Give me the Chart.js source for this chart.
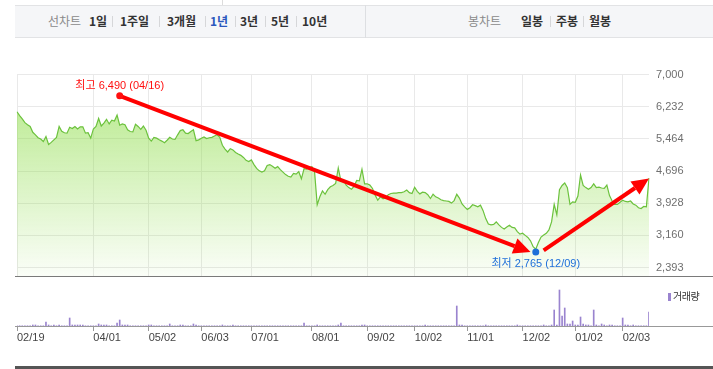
<!DOCTYPE html>
<html lang="ko">
<head>
<meta charset="utf-8">
<script src="https://cdn.jsdelivr.net/npm/chart.js@4.4.1/dist/chart.umd.min.js"></script>
<style>
  html, body { margin: 0; padding: 0; background: #fff; }
  body { width: 713px; height: 369px; position: relative; overflow: hidden; font-family: "Noto Sans CJK KR", sans-serif; }
  .abs { position: absolute; }
  .bar { left: 15px; top: 5px; width: 698px; height: 33px; background: #f5f6f8; border-top: 1px solid #e2e3e5; border-bottom: 1px solid #e2e3e5; box-sizing: border-box; }
  .topline { left: 222px; top: 0; width: 1px; height: 5px; background: #dcdcdc; }
  .divider { left: 365px; top: 5px; width: 1px; height: 33px; background: #dddfe2; }
  .t { top: 5px; line-height: 32px; font-size: 12px; color: #333; font-weight: bold; white-space: nowrap; }
  .t.lbl { color: #8a8a8a; font-weight: normal; }
  .t.on { color: #2b57bd; }
  .sep { top: 16px; width: 1px; height: 11px; background: #d6d7d9; }
  .bottomline { left: 15px; top: 366px; width: 698px; height: 3px; background: #555; }
  canvas { position: absolute; left: 0; }
  .legend { left: 668px; top: 288px; font-size: 10px; color: #333; line-height: 16px; letter-spacing: -0.5px; }
  .legend i { display: inline-block; width: 3px; height: 8px; background: #9a84cf; margin-right: 2px; vertical-align: -1px; }
</style>
</head>
<body>
<div class="abs topline"></div>
<div class="abs bar"></div>
<div class="abs divider"></div>
<span class="abs t lbl" style="left:48px">선차트</span>
<span class="abs t" style="left:89px">1일</span>
<i class="abs sep" style="left:112px"></i>
<span class="abs t" style="left:120px">1주일</span>
<i class="abs sep" style="left:159px"></i>
<span class="abs t" style="left:167px">3개월</span>
<i class="abs sep" style="left:205px"></i>
<span class="abs t on" style="left:210px">1년</span>
<i class="abs sep" style="left:235px"></i>
<span class="abs t" style="left:240px">3년</span>
<i class="abs sep" style="left:265px"></i>
<span class="abs t" style="left:271px">5년</span>
<i class="abs sep" style="left:296px"></i>
<span class="abs t" style="left:302px">10년</span>
<span class="abs t lbl" style="left:468px">봉차트</span>
<span class="abs t" style="left:521px">일봉</span>
<i class="abs sep" style="left:550px"></i>
<span class="abs t" style="left:556px">주봉</span>
<i class="abs sep" style="left:583px"></i>
<span class="abs t" style="left:589px">월봉</span>

<canvas id="price" width="713" height="250" style="top:40px"></canvas>
<canvas id="volume" width="713" height="86" style="top:283px"></canvas>
<div class="abs legend"><i></i>거래량</div>
<div class="abs bottomline"></div>

<script>
// 거래일 (월별)
const tradingMonths = [
  ['02', [19, 20, 21, 22, 23, 26, 27, 28, 29]],
  ['03', [4, 5, 6, 7, 8, 11, 12, 13, 14, 15, 18, 19, 20, 21, 22, 25, 26, 27, 28, 29]],
  ['04', [1, 2, 3, 4, 5, 8, 9, 11, 12, 15, 16, 17, 18, 19, 22, 23, 24, 25, 26, 29, 30]],
  ['05', [2, 3, 7, 8, 9, 10, 13, 14, 16, 17, 20, 21, 22, 23, 24, 27, 28, 29, 30, 31]],
  ['06', [3, 4, 5, 7, 10, 11, 12, 13, 14, 17, 18, 19, 20, 21, 24, 25, 26, 27, 28]],
  ['07', [1, 2, 3, 4, 5, 8, 9, 10, 11, 12, 15, 16, 17, 18, 19, 22, 23, 24, 25, 26, 29, 30, 31]],
  ['08', [1, 2, 5, 6, 7, 8, 9, 12, 13, 14, 16, 19, 20, 21, 22, 23, 26, 27, 28, 29, 30]],
  ['09', [2, 3, 4, 5, 6, 9, 10, 11, 12, 13, 19, 20, 23, 24, 25, 26, 27, 30]],
  ['10', [2, 4, 7, 8, 10, 11, 14, 15, 16, 17, 18, 21, 22, 23, 24, 25, 28, 29, 30, 31]],
  ['11', [1, 4, 5, 6, 7, 8, 11, 12, 13, 14, 15, 18, 19, 20, 21, 22, 25, 26, 27, 28, 29]],
  ['12', [2, 3, 4, 5, 6, 9, 10, 11, 12, 13, 16, 17, 18, 19, 20, 23, 24, 26, 27, 30]],
  ['01', [2, 3, 6, 7, 8, 9, 10, 13, 14, 15, 16, 17, 20, 21, 22, 23, 24, 31]],
  ['02', [3, 4, 5, 6, 7, 10, 11, 12, 13, 14, 17]]
];

// 종가
const closePrices = [
  6110, 6020, 5940, 5850, 5800, 5760, 5620, 5560, 5490, 5460,
  5400, 5520, 5330, 5380, 5440, 5500, 5760, 5645, 5610, 5600,
  5740, 5710, 5760, 5700, 5750, 5750, 5600, 5610, 5480, 5700,
  5760, 5950, 5770, 5840, 5930, 5820, 5910, 5890, 6030, 5790,
  5820, 5800, 5680, 5640, 5630, 5810, 5760, 5690, 5770, 5670,
  5480, 5410, 5500, 5480, 5440, 5410, 5370, 5430, 5500, 5460,
  5450, 5560, 5660, 5680, 5600, 5590, 5640, 5680, 5420, 5440,
  5480, 5510, 5470, 5490, 5500, 5530, 5560, 5500, 5310, 5220,
  5150, 5230, 5200, 5140, 5100, 5070, 5020, 4950, 4920, 4960,
  4850, 4760, 4700, 4670, 4700, 4830, 4850, 4810, 4760, 4800,
  4730, 4670, 4610, 4570, 4550, 4640, 4620, 4680, 4510, 4750,
  4740, 4780, 4800, 4680, 3890, 4080, 4220, 4140, 4250, 4320,
  4350, 4400, 4770, 4460, 4480, 4360, 4300, 4260, 4330, 4470,
  4460, 4740, 4390, 4390, 4360, 4280, 4120, 4000, 4080, 4030,
  4060, 4130, 4160, 4170, 4170, 4180, 4180, 4200, 4240, 4180,
  4160, 4310, 4210, 4150, 4190, 4180, 4130, 4040, 4140, 4080,
  4050, 4010, 3990, 3980, 3970, 3930, 3990, 4140, 4050, 3910,
  3840, 3780, 3820, 3890, 3870, 3840, 3880, 3750, 3560, 3430,
  3410, 3420, 3480, 3410, 3350, 3310, 3360, 3400, 3350, 3340,
  3250, 3190, 3210, 3160, 3110, 3030, 2890, 2830, 2990, 3120,
  3170, 3210, 3290, 3480, 3900, 3650, 4250, 4350, 4410, 4300,
  3900, 3960, 3950, 4100, 4600, 4350, 4300, 4260, 4300, 4390,
  4300, 4310, 4290, 4280, 4360, 4110, 3980, 3900, 3900, 3950,
  4000, 3970, 3960, 3980, 3910, 3880, 3820, 3800, 3850, 3840,
  4530
];

// 거래량 (천주)
const volumes = [
  20, 20, 20, 20, 20, 20, 100, 100, 20, 20,
  20, 400, 100, 20, 100, 20, 100, 20, 20, 20,
  800, 100, 100, 100, 100, 100, 20, 20, 20, 20,
  20, 200, 100, 100, 100, 20, 20, 20, 300, 600,
  100, 100, 100, 20, 20, 20, 20, 20, 20, 20,
  100, 100, 20, 20, 20, 20, 20, 20, 200, 20,
  20, 20, 100, 100, 20, 20, 20, 200, 100, 20,
  20, 20, 20, 20, 20, 20, 20, 20, 100, 20,
  20, 20, 100, 20, 20, 20, 20, 20, 20, 20,
  20, 20, 20, 20, 20, 20, 20, 20, 20, 20,
  20, 20, 20, 20, 20, 20, 20, 20, 20, 300,
  20, 20, 20, 20, 100, 20, 20, 20, 20, 20,
  20, 20, 100, 300, 20, 20, 20, 20, 20, 20,
  20, 100, 100, 20, 20, 20, 20, 20, 20, 20,
  20, 20, 20, 20, 20, 20, 20, 20, 20, 20,
  20, 20, 20, 20, 20, 100, 20, 20, 20, 20,
  20, 20, 20, 20, 20, 20, 20, 2000, 100, 100,
  20, 20, 20, 20, 20, 20, 20, 20, 100, 20,
  20, 20, 20, 20, 20, 20, 20, 20, 20, 20,
  100, 20, 20, 20, 20, 20, 20, 20, 20, 20,
  100, 20, 20, 100, 1600, 100, 3600, 1000, 1800, 200,
  200, 500, 100, 100, 900, 200, 100, 100, 20, 1600,
  100, 20, 200, 100, 20, 100, 100, 20, 20, 20,
  800, 100, 100, 20, 100, 20, 20, 20, 20, 20,
  1400
];

const tickDates = ['02/19', '04/01', '05/02', '06/03', '07/01', '08/01', '09/02', '10/02', '11/01', '12/02', '01/02', '02/03'];
const priceTicks = [7000, 6232, 5464, 4696, 3928, 3160, 2393];
const priceMin = 2180;
const priceMax = 7000;
const volumeMax = 4300;

const extremeNames = ['최고', '최저'];
const extremeDates = ['04/16', '12/09'];
const extremeValues = [6490, 2765];

// 화살표 [시작일, 값, 끝일, 값]
const arrows = [
  ['04/16', 6490, '12/05', 2760],
  ['12/12', 2800, '02/17', 4520]
];

const dates = [];
tradingMonths.forEach(([mm, days]) => {
  days.forEach(d => dates.push(mm + '/' + String(d).padStart(2, '0')));
});
const tickIdx = tickDates.map(d => dates.indexOf(d));

const numFont = '"Liberation Sans", "Noto Sans CJK KR", sans-serif';

const baselinePlugin = {
  id: 'baseline',
  afterDraw(chart, args, opts) {
    const { ctx, chartArea } = chart;
    const y = Math.floor(chartArea.bottom) + 0.5;
    ctx.save();
    ctx.strokeStyle = opts.color || '#888';
    ctx.lineWidth = 1;
    ctx.beginPath();
    ctx.moveTo(15, y);
    ctx.lineTo(chart.width, y);
    ctx.stroke();
    ctx.restore();
  }
};

const drawArrow = (ctx, x1, y1, x2, y2) => {
  const ang = Math.atan2(y2 - y1, x2 - x1);
  const headLen = 17, headHalf = 8;
  const bx = x2 - headLen * Math.cos(ang);
  const by = y2 - headLen * Math.sin(ang);
  ctx.beginPath();
  ctx.moveTo(x1, y1);
  ctx.lineTo(bx, by);
  ctx.stroke();
  ctx.beginPath();
  ctx.moveTo(x2, y2);
  ctx.lineTo(bx + headHalf * Math.sin(ang), by - headHalf * Math.cos(ang));
  ctx.lineTo(bx - headHalf * Math.sin(ang), by + headHalf * Math.cos(ang));
  ctx.closePath();
  ctx.fill();
};

const markPlugin = {
  id: 'marks',
  afterDatasetsDraw(chart) {
    const { ctx, scales: { x, y } } = chart;
    const px = d => x.getPixelForValue(dates.indexOf(d));
    ctx.save();
    ctx.strokeStyle = '#ff0000';
    ctx.fillStyle = '#ff0000';
    ctx.lineWidth = 4;
    ctx.lineCap = 'butt';
    arrows.forEach(a => drawArrow(ctx, px(a[0]), y.getPixelForValue(a[1]), px(a[2]), y.getPixelForValue(a[3])));

    const colors = ['#ff1010', '#1e6fd9'];
    ctx.font = '11px ' + numFont;
    ctx.textAlign = 'center';
    ctx.textBaseline = 'middle';
    extremeDates.forEach((d, i) => {
      const cx = px(d), cy = y.getPixelForValue(extremeValues[i]);
      ctx.fillStyle = colors[i];
      ctx.beginPath();
      ctx.arc(cx, cy, 3.5, 0, Math.PI * 2);
      ctx.fill();
      const label = extremeNames[i] + ' ' + extremeValues[i].toLocaleString('en-US') + ' (' + d + ')';
      ctx.fillText(label, cx, i === 0 ? cy - 10 : cy + 12);
    });
    ctx.restore();
  }
};

new Chart(document.getElementById('price'), {
  type: 'line',
  data: {
    labels: dates,
    datasets: [{
      data: closePrices,
      borderColor: '#6cc23d',
      borderWidth: 1.2,
      pointRadius: 0,
      tension: 0,
      fill: 'start',
      backgroundColor: (c) => {
        const area = c.chart.chartArea;
        if (!area) return 'rgba(140,220,70,0.3)';
        const g = c.chart.ctx.createLinearGradient(0, area.top, 0, area.bottom);
        g.addColorStop(0, 'rgba(140,220,70,0.66)');
        g.addColorStop(1, 'rgba(140,220,70,0.04)');
        return g;
      }
    }]
  },
  options: {
    responsive: false,
    animation: false,
    events: [],
    layout: { padding: { left: 17, right: 0, top: 34.5, bottom: 6.5 } },
    plugins: { legend: { display: false }, tooltip: { enabled: false }, baseline: { color: '#7a7a7a' } },
    scales: {
      x: {
        grid: { color: '#e9e9e9', drawTicks: false },
        border: { display: false },
        ticks: { display: false },
        afterBuildTicks: s => { s.ticks = tickIdx.map(v => ({ value: v })); }
      },
      y: {
        position: 'right',
        min: priceMin,
        max: priceMax,
        grid: { color: '#e9e9e9', drawTicks: false },
        border: { display: false },
        ticks: {
          color: '#6f6f6f',
          padding: 7,
          font: { family: numFont, size: 11 },
          callback: v => Number(v).toLocaleString('en-US')
        },
        afterBuildTicks: s => { s.ticks = priceTicks.map(v => ({ value: v })); },
        afterFit: s => { s.width = 64; }
      }
    }
  },
  plugins: [baselinePlugin, markPlugin]
});

new Chart(document.getElementById('volume'), {
  type: 'bar',
  data: {
    labels: dates,
    datasets: [{ data: volumes, backgroundColor: '#9a84cf', barThickness: 1, borderWidth: 0 }]
  },
  options: {
    responsive: false,
    animation: false,
    events: [],
    layout: { padding: { left: 17, right: 64, top: 0, bottom: 0 } },
    plugins: { legend: { display: false }, tooltip: { enabled: false }, baseline: { color: '#999' } },
    scales: {
      x: {
        offset: false,
        grid: { offset: false, drawOnChartArea: false, drawTicks: true, tickLength: 5, color: '#999' },
        border: { display: false },
        ticks: { autoSkip: false, maxRotation: 0, align: 'start', padding: 0, color: '#444', font: { family: numFont, size: 11 } },
        afterBuildTicks: s => { s.ticks = tickIdx.map(v => ({ value: v })); },
        afterFit: s => { s.height = 43; }
      },
      y: { display: false, min: 0, max: volumeMax }
    }
  },
  plugins: [baselinePlugin]
});
</script>
</body>
</html>
